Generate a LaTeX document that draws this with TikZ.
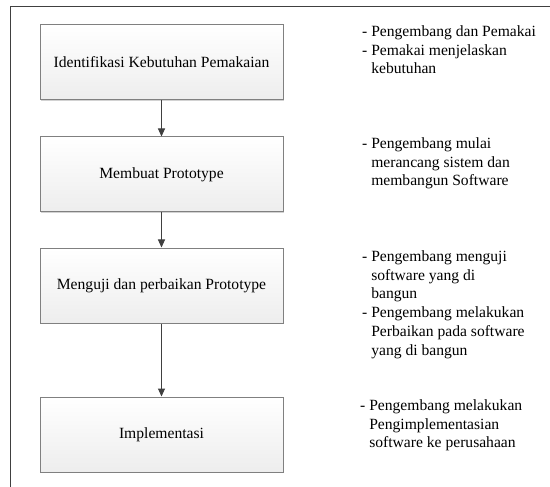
\documentclass[tikz,border=0pt]{standalone}
\usepackage{fontspec}
\setmainfont{Liberation Serif}
\usetikzlibrary{arrows.meta,shadows}
\definecolor{boxgray}{RGB}{128,128,128}
\definecolor{linegray}{RGB}{64,64,64}
\definecolor{framegray}{RGB}{64,64,64}
\begin{document}
\begin{tikzpicture}[x=1pt,y=-1pt,
  stepbox/.style={draw=boxgray, line width=1pt, top color=white, bottom color=gray!14,
    minimum width=243pt, minimum height=75pt, inner sep=0pt,
    font=\fontsize{15.6}{18.7}\selectfont,
    drop shadow={shadow xshift=1.2pt,shadow yshift=-1.2pt,fill=gray!35,opacity=1}},
  note/.style={anchor=north west, inner sep=0pt, align=left,
    font=\fontsize{15.6}{18.7}\selectfont},
  flow/.style={draw=linegray, line width=1pt, -{Triangle[length=8pt,width=7pt]}}]
\useasboundingbox (0,0) rectangle (550,487);
\fill[white] (0,0) rectangle (550,487);
\draw[framegray, line width=1.3pt] (550,6.5) -- (10.5,6.5) -- (10.5,487);

\node[stepbox] (b1) at (161.5,62.5) {Identifikasi Kebutuhan Pemakaian};
\node[stepbox] (b2) at (161.5,174.5) {Membuat Prototype};
\node[stepbox] (b3) at (161.5,285.5) {Menguji dan perbaikan Prototype};
\node[stepbox] (b4) at (161.5,434.5) {Implementasi};

\draw[flow] (b1) -- (b2);
\draw[flow] (b2) -- (b3);
\draw[flow] (b3) -- (b4);

\node[note] (n1) at (362,25.5) {- Pengembang dan Pemakai\\- Pemakai menjelaskan\\\hphantom{- }kebutuhan};
\node[note] (n2) at (362,137.5) {- Pengembang mulai\\\hphantom{- }merancang sistem dan\\\hphantom{- }membangun Software};
\node[note] (n3) at (362,250.5) {- Pengembang menguji\\\hphantom{- }software yang di\\\hphantom{- }bangun\\- Pengembang melakukan\\\hphantom{- }Perbaikan pada software\\\hphantom{- }yang di bangun};
\node[note] (n4) at (360,399.5) {- Pengembang melakukan\\\hphantom{- }Pengimplementasian\\\hphantom{- }software ke perusahaan};
\end{tikzpicture}
\end{document}
